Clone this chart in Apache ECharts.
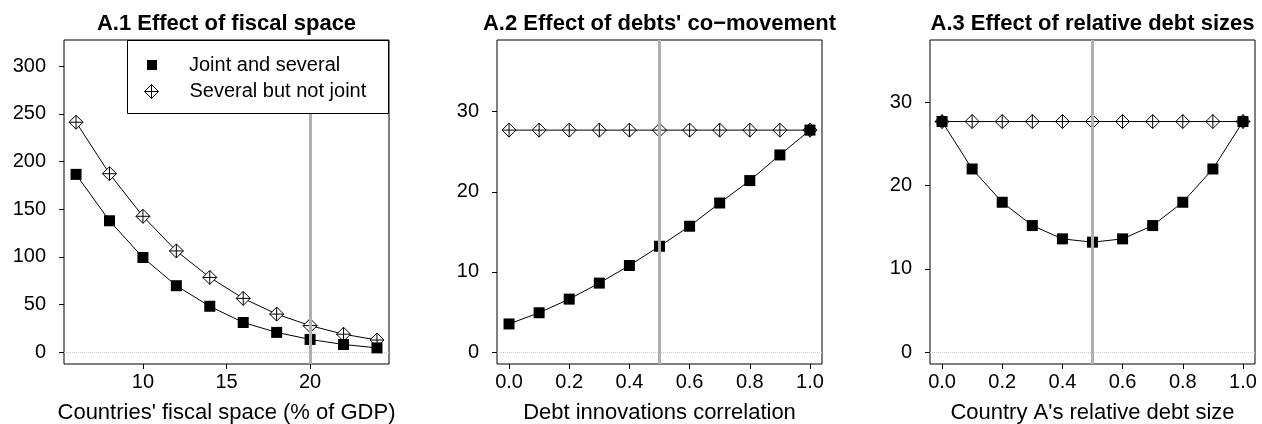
<!DOCTYPE html>
<html>
<head>
<meta charset="utf-8">
<script src="https://cdn.jsdelivr.net/npm/echarts@6/dist/echarts.min.js"></script>
<style>
  html, body { margin: 0; padding: 0; background: #ffffff; }
  #chart { width: 1262px; height: 424px; }
</style>
</head>
<body>
<div id="chart"></div>
<script>
// ---- Data ----
const fiscalSpace   = [6, 8, 10, 12, 14, 16, 18, 20, 22, 24];
const jointFiscal   = [186.5, 137.8, 99.2, 69.6, 48.0, 31.0, 20.6, 13.2, 7.9, 4.3];
const severalFiscal = [241.3, 187.2, 142.5, 106.1, 78.3, 56.3, 39.8, 27.7, 18.7, 12.6];

const correlation   = [0.0, 0.1, 0.2, 0.3, 0.4, 0.5, 0.6, 0.7, 0.8, 0.9, 1.0];
const jointCorr     = [3.5, 4.9, 6.6, 8.6, 10.8, 13.2, 15.7, 18.6, 21.4, 24.6, 27.7];
const severalCorr   = [27.7, 27.7, 27.7, 27.7, 27.7, 27.7, 27.7, 27.7, 27.7, 27.7, 27.7];

const debtShare     = [0.0, 0.1, 0.2, 0.3, 0.4, 0.5, 0.6, 0.7, 0.8, 0.9, 1.0];
const jointSize     = [27.7, 22.0, 18.0, 15.2, 13.6, 13.2, 13.6, 15.2, 18.0, 22.0, 27.7];
const severalSize   = [27.7, 27.7, 27.7, 27.7, 27.7, 27.7, 27.7, 27.7, 27.7, 27.7, 27.7];

const panelTitles = ['A.1 Effect of fiscal space', 'A.2 Effect of debts\' co\u2212movement', 'A.3 Effect of relative debt sizes'];
const xAxisNames  = ['Countries\' fiscal space (% of GDP)', 'Debt innovations correlation', 'Country A\'s relative debt size'];
const seriesNames = ['Joint and several', 'Several but not joint'];

const xTicksFiscal = [10, 15, 20];
const xTicksUnit   = [0, 0.2, 0.4, 0.6, 0.8, 1.0];
const yTicksFiscal = [0, 50, 100, 150, 200, 250, 300];
const yTicksSmall  = [0, 10, 20, 30];
const referenceX   = [20, 0.5, 0.5];

// ---- Layout / style (not data) ----
const FONT = 'Liberation Sans, Arial, Helvetica, sans-serif';
const gridBoxes = [
  { left: 64,  top: 40, width: 325, height: 324 },
  { left: 497, top: 40, width: 325, height: 324 },
  { left: 930, top: 40, width: 325, height: 324 }
];
const xRanges = [[5.28, 24.72], [-0.04, 1.04], [-0.04, 1.04]];
const yRanges = [[-12.6, 327.6], [-1.5, 38.95], [-1.44, 37.5]];

const panelX = [fiscalSpace, correlation, debtShare];
const panelJoint = [jointFiscal, jointCorr, jointSize];
const panelSeveral = [severalFiscal, severalCorr, severalSize];
const panelXTicks = [xTicksFiscal, xTicksUnit, xTicksUnit];
const panelYTicks = [yTicksFiscal, yTicksSmall, yTicksSmall];

const DIAMOND = 'path://M0,-10 L10,0 L0,10 L-10,0 Z M0,-10 L0,10 M-10,0 L10,0';

const zip = (xs, ys) => xs.map((x, i) => [x, ys[i]]);

const grids = [], xAxes = [], yAxes = [], titles = [], series = [];

for (let p = 0; p < 3; p++) {
  const g = gridBoxes[p];
  grids.push(Object.assign({
    show: true, borderColor: '#000', borderWidth: 1, backgroundColor: 'transparent',
    containLabel: false, outerBoundsMode: 'none'
  }, g));
  titles.push({
    text: panelTitles[p],
    left: g.left + g.width / 2,
    top: 13,
    textAlign: 'center',
    padding: 0,
    textStyle: { fontFamily: FONT, fontSize: 22, fontWeight: 'bold', color: '#000' }
  });
  const isUnit = p > 0;
  xAxes.push({
    type: 'value', gridIndex: p, position: 'bottom',
    min: xRanges[p][0], max: xRanges[p][1],
    name: xAxisNames[p], nameLocation: 'middle', nameGap: 38,
    nameTextStyle: { fontFamily: FONT, fontSize: 22, color: '#000' },
    axisLine: { show: false, onZero: false },
    splitLine: { show: false },
    axisTick: { show: true, inside: false, length: 5, lineStyle: { color: '#000', width: 1 }, customValues: panelXTicks[p] },
    axisLabel: {
      show: true, margin: 8, fontFamily: FONT, fontSize: 20, color: '#000',
      customValues: panelXTicks[p],
      formatter: isUnit ? (v => Number(v).toFixed(1)) : (v => String(v))
    }
  });
  yAxes.push({
    type: 'value', gridIndex: p, position: 'left',
    min: yRanges[p][0], max: yRanges[p][1],
    axisLine: { show: false, onZero: false },
    splitLine: { show: false },
    axisTick: { show: true, inside: false, length: 5, lineStyle: { color: '#000', width: 1 }, customValues: panelYTicks[p] },
    axisLabel: {
      show: true, margin: 18, fontFamily: FONT, fontSize: 20, color: '#000',
      customValues: panelYTicks[p],
      formatter: v => String(v)
    }
  });

  // connecting lines
  series.push({
    type: 'line', xAxisIndex: p, yAxisIndex: p,
    data: zip(panelX[p], panelSeveral[p]),
    showSymbol: false, symbol: 'none', silent: true, z: 2,
    lineStyle: { color: '#000', width: 1 },
    emphasis: { disabled: true },
    // dotted zero line
    markLine: {
      silent: true, symbol: ['none', 'none'], z: 1,
      label: { show: false },
      lineStyle: { color: '#c8c8c8', type: 'dotted', width: 1 },
      emphasis: { disabled: true },
      data: [{ yAxis: 0 }]
    }
  });
  series.push({
    type: 'line', xAxisIndex: p, yAxisIndex: p,
    data: zip(panelX[p], panelJoint[p]),
    showSymbol: false, symbol: 'none', silent: true, z: 2,
    lineStyle: { color: '#000', width: 1 },
    emphasis: { disabled: true },
    // reference vertical line
    markLine: {
      silent: true, symbol: ['none', 'none'], z: 6,
      label: { show: false },
      lineStyle: { color: '#b0b0b0', type: 'solid', width: 3 },
      emphasis: { disabled: true },
      data: [{ xAxis: referenceX[p] }]
    }
  });
  // markers
  series.push({
    type: 'scatter', name: seriesNames[1], xAxisIndex: p, yAxisIndex: p,
    data: zip(panelX[p], panelSeveral[p]),
    symbol: DIAMOND, symbolSize: 14, z: 3, silent: true,
    itemStyle: { color: '#ffffff', borderColor: '#000', borderWidth: 1, opacity: 1 },
    emphasis: { disabled: true }
  });
  series.push({
    type: 'scatter', name: seriesNames[0], xAxisIndex: p, yAxisIndex: p,
    data: zip(panelX[p], panelJoint[p]),
    symbol: 'rect', symbolSize: 11, z: 4, silent: true,
    itemStyle: { color: '#000', opacity: 1 },
    emphasis: { disabled: true }
  });
}

const chart = echarts.init(document.getElementById('chart'), null, { renderer: 'canvas' });
chart.setOption({
  animation: false,
  backgroundColor: '#ffffff',
  textStyle: { fontFamily: FONT },
  title: titles,
  grid: grids,
  xAxis: xAxes,
  yAxis: yAxes,
  tooltip: { show: false },
  legend: [
    {
      data: [{ name: seriesNames[0], icon: 'rect' }],
      orient: 'vertical', left: 147, top: 55, padding: 0, z: 200,
      itemWidth: 10, itemHeight: 10, selectedMode: false,
      textStyle: { fontFamily: FONT, fontSize: 20, color: '#000', padding: [0, 0, 0, 27] }
    },
    {
      data: [{ name: seriesNames[1], icon: DIAMOND }],
      orient: 'vertical', left: 144, top: 81.5, padding: 0, z: 200,
      itemWidth: 14, itemHeight: 14, selectedMode: false,
      itemStyle: { color: '#ffffff', borderColor: '#000', borderWidth: 1 },
      textStyle: { fontFamily: FONT, fontSize: 20, color: '#000', padding: [0, 0, 0, 26] }
    }
  ],
  graphic: [
    {
      type: 'rect', z: 100, silent: true,
      shape: { x: 127.5, y: 40.5, width: 261, height: 73 },
      style: { fill: '#ffffff', stroke: '#000', lineWidth: 1 }
    }
  ],
  series: series
});
</script>
</body>
</html>
